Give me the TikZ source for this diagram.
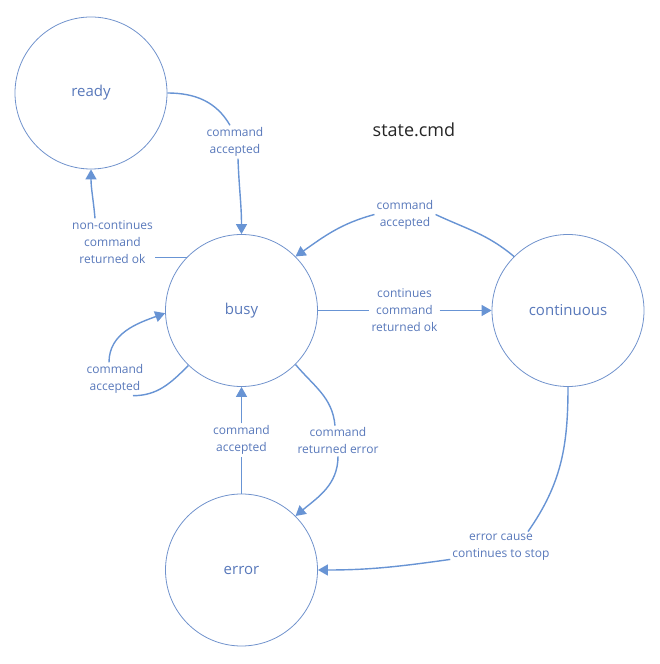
\documentclass[tikz,border=0pt]{standalone}
\usepackage{fontspec}
\setmainfont{Open Sans}
\usetikzlibrary{arrows.meta}
\definecolor{statecol}{RGB}{112,146,204}
\definecolor{linecol}{RGB}{104,148,212}
\definecolor{textcol}{RGB}{88,120,186}
\tikzset{
  state/.style={circle,draw=statecol,line width=0.8pt,minimum size=152pt,inner sep=0pt,
    text=textcol,font=\fontsize{15}{18}\selectfont},
  lbl/.style={align=center,text=textcol,font=\fontsize{12}{17}\selectfont,inner sep=2pt},
  conn/.style={draw=linecol,line width=1.4pt},
  tip/.style={-{Triangle[length=10pt,width=11pt]}}
}
\begin{document}
\begin{tikzpicture}[x=1pt,y=1pt]
      \useasboundingbox (0,0) rectangle (660,664);
      \draw
        (91,571) node[state] (ready){ready}
        (241.5,353.5) node[state] (busy){busy}
        (568,353.5) node[state] (continuous){continuous}
        (241.5,94) node[state] (error){error};
      \node[font=\fontsize{18}{22}\selectfont,text=black!85] (title) at (414,534) {state.cmd};
      \draw
        (235,522) node[lbl] (l1){command\\accepted}
        (112.5,422) node[lbl] (l2){non-continues\\command\\returned ok}
        (115,285) node[lbl] (l3){command\\accepted}
        (404.5,353.5) node[lbl] (l4){continues\\command\\returned ok}
        (405,449.5) node[lbl] (l5){command\\accepted}
        (338,223) node[lbl] (l6){command\\returned error}
        (241.5,224) node[lbl] (l7){command\\accepted}
        (501,117) node[lbl] (l8){error cause\\continues to stop};
      \begin{scope}[conn]
        \draw (ready.east) to[out=0,in=120] ([xshift=-5pt]l1.north);
        \draw[tip] ([xshift=3pt]l1.south) to[out=-88,in=90] (busy.north);
        \draw (busy.136) -- (busy.136 -| l2.east);
        \draw[tip] ([xshift=-17.5pt]l2.north) to[out=95,in=-90] (ready.south);
        \draw (busy.-134) to[out=-135,in=0] ([xshift=18pt]l3.south);
        \draw[tip] ([xshift=-6pt]l3.north) to[out=90,in=200] (busy.182);
        \draw (busy) -- (l4);
        \draw[tip] (l4) -- (continuous);
        \draw (continuous.135) to[out=140,in=-25] (l5.east);
        \draw[tip] (l5.west) to[out=195,in=35] (busy.45);
        \draw (busy.-45) to[out=-50,in=95] ([xshift=-3pt]l6.north);
        \draw[tip] (l6.south) to[out=-90,in=40] (error.45);
        \draw (error.north) -- (l7.south);
        \draw[tip] (l7.north) -- (busy.south);
        \draw (continuous.south) to[out=-90,in=55] ([xshift=27pt]l8.north);
        \draw[tip] ([yshift=3pt]l8.south west) to[out=188,in=0] (error.east);
      \end{scope}
    \end{tikzpicture}
\end{document}
